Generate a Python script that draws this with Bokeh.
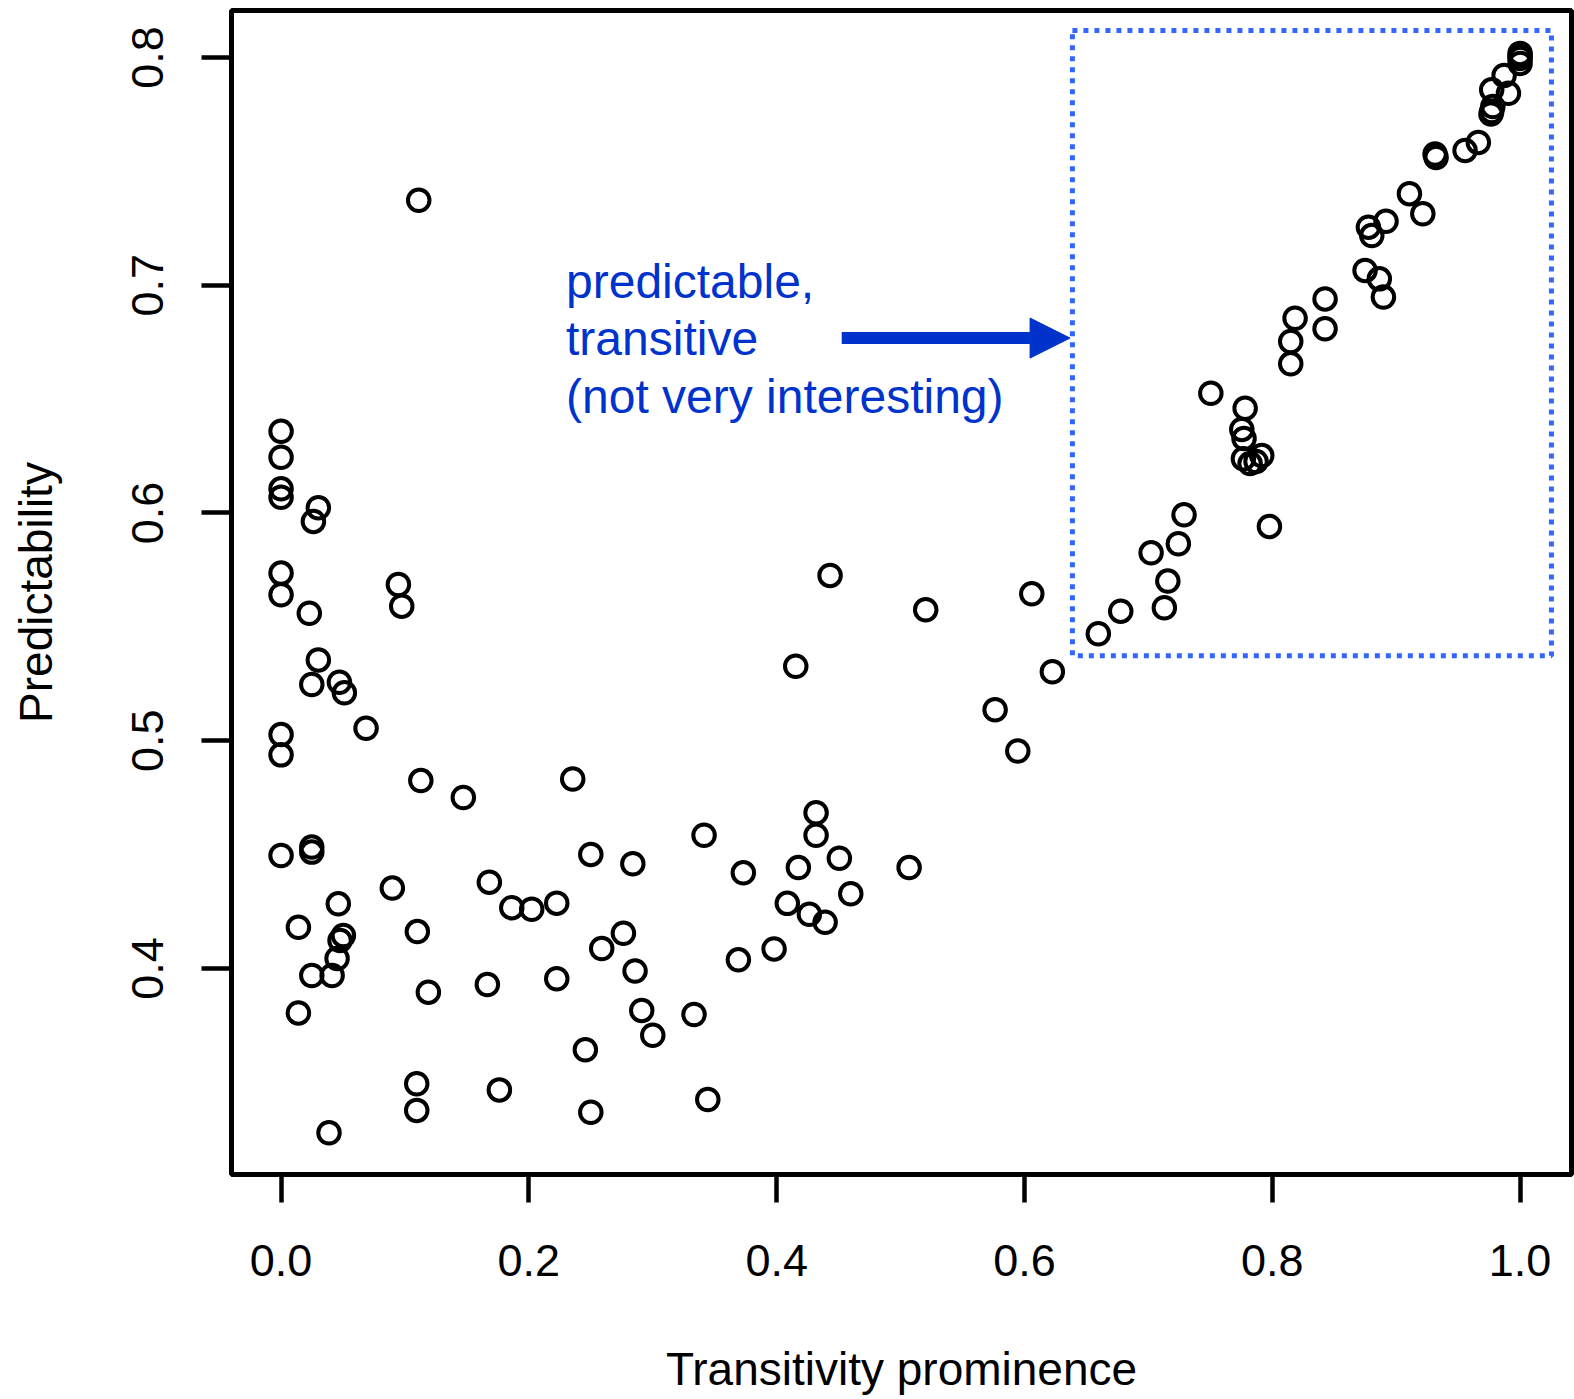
from bokeh.plotting import figure
from bokeh.models import Range1d, FixedTicker, BoxAnnotation, Arrow, NormalHead
from bokeh.core.properties import value
from bokeh.embed import file_html
from bokeh.resources import INLINE

# ---- data ----
transitivity = [
    0.0, 0.0, 0.0, 0.0, 0.0, 0.0, 0.0, 0.0, 0.0,
    0.0301, 0.0261, 0.0228, 0.0947, 0.0974, 0.0301, 0.0248, 0.0471, 0.0511, 0.0686,
    0.1128, 0.1471, 0.2354, 0.1111, 0.0248, 0.0248, 0.2500, 0.2839, 0.0898, 0.1681,
    0.1862, 0.2023, 0.2225, 0.0462, 0.0140, 0.1100, 0.2763, 0.2588, 0.0503, 0.0476,
    0.0452, 0.0412, 0.0248, 0.2857, 0.0140, 0.1189, 0.1665, 0.2225, 0.2911, 0.3000,
    0.2456, 0.1095, 0.1095, 0.1762, 0.2500, 0.0387,
    0.4431, 0.5203, 0.6059, 0.4154, 0.6225, 0.5763, 0.5946, 0.4318, 0.4318, 0.4506,
    0.4175, 0.5069, 0.3414, 0.3731, 0.4598, 0.4086, 0.4264, 0.4391, 0.3979, 0.3691,
    0.3333, 0.3444,
    0.8149, 0.7504, 0.7781, 0.7754, 0.7772, 0.7767, 0.7821, 0.7869, 0.7915, 0.7977,
    0.7288, 0.7242, 0.7022, 0.7157, 0.7129, 0.6777, 0.6596,
    0.8149, 0.8184, 0.8426, 0.8426, 0.8749, 0.8864, 0.8897, 0.8776, 0.8803, 0.8918,
    0.9107, 0.9215, 0.9314, 0.9322, 0.9556, 0.9663, 0.9771, 0.9906, 0.9871, 0.9780,
    0.9771, 0.9765, 1.0, 1.0, 1.0, 1.0,
]
predictability = [
    0.6359, 0.6245, 0.6106, 0.6069, 0.5736, 0.5641, 0.5027, 0.4938, 0.4496,
    0.6023, 0.5963, 0.5560, 0.5686, 0.5591, 0.5355, 0.5247, 0.5257, 0.5211, 0.5055,
    0.4825, 0.4751, 0.4832, 0.7373, 0.4533, 0.4511, 0.4501, 0.4460, 0.4353, 0.4379,
    0.4267, 0.4260, 0.4287, 0.4284, 0.4181, 0.4162, 0.4155, 0.4088, 0.4145, 0.4123,
    0.4044, 0.3969, 0.3969, 0.3989, 0.3805, 0.3896, 0.3930, 0.3955, 0.3816, 0.3707,
    0.3643, 0.3494, 0.3377, 0.3467, 0.3369, 0.3279,
    0.5726, 0.5575, 0.5645, 0.5327, 0.5303, 0.5136, 0.4955, 0.4684, 0.4585, 0.4484,
    0.4443, 0.4443, 0.4585, 0.4420, 0.4328, 0.4286, 0.4238, 0.4203, 0.4086, 0.4038,
    0.3798, 0.3425,
    0.6655, 0.6526, 0.6460, 0.6367, 0.6327, 0.6238, 0.6217, 0.6226, 0.6252, 0.5941,
    0.5992, 0.5865, 0.5825, 0.5701, 0.5584, 0.5569, 0.5470,
    0.6753, 0.6855, 0.6940, 0.6809, 0.7065, 0.7028, 0.6948, 0.7255, 0.7218, 0.7281,
    0.7402, 0.7314, 0.7576, 0.7561, 0.7592, 0.7627, 0.7858, 0.7843, 0.7921, 0.7785,
    0.7763, 0.7752, 0.8018, 0.8007, 0.7996, 0.7974,
]
x_ticks = [0.0, 0.2, 0.4, 0.6, 0.8, 1.0]
x_tick_labels = ["0.0", "0.2", "0.4", "0.6", "0.8", "1.0"]
y_ticks = [0.4, 0.5, 0.6, 0.7, 0.8]
y_tick_labels = ["0.4", "0.5", "0.6", "0.7", "0.8"]
x_title = "Transitivity prominence"
y_title = "Predictability"
note_lines = ["predictable,", "transitive", "(not very interesting)"]

FONT = "Liberation Sans"
NOTE_BLUE = "#0033cc"
BOX_BLUE = "#3366ff"

p = figure(width=1574, height=1399,
           x_range=Range1d(-0.04, 1.0415), y_range=Range1d(0.30955, 0.82063),
           output_backend="svg", toolbar_location=None,
           min_border_left=231, min_border_right=3,
           min_border_top=10, min_border_bottom=225)

p.background_fill_color = "white"
p.border_fill_color = "white"
p.outline_line_color = "black"
p.outline_line_width = 5
p.xgrid.visible = False
p.ygrid.visible = False

for ax, ticks, labels in ((p.xaxis[0], x_ticks, x_tick_labels),
                          (p.yaxis[0], y_ticks, y_tick_labels)):
    ax.ticker = FixedTicker(ticks=ticks)
    ax.major_label_overrides = dict(zip(ticks, labels))
    ax.axis_line_color = None
    ax.major_tick_line_color = "black"
    ax.major_tick_line_width = 4.5
    ax.major_tick_in = 0
    ax.minor_tick_line_color = None
    ax.major_label_text_font = FONT
    ax.major_label_text_font_size = "45px"
    ax.major_label_text_color = "black"
    ax.axis_label_text_font = FONT
    ax.axis_label_text_font_size = "46px"
    ax.axis_label_text_font_style = "normal"
    ax.axis_label_text_color = "black"

p.xaxis.axis_label = x_title
p.xaxis.major_tick_out = 28
p.xaxis.major_label_standoff = 42
p.xaxis.axis_label_standoff = 64

p.yaxis.axis_label = y_title
p.yaxis.major_tick_out = 30
p.yaxis.major_label_orientation = "vertical"
p.yaxis.major_label_standoff = 38
p.yaxis.axis_label_standoff = 68

# highlighted region
p.add_layout(BoxAnnotation(left=0.6387, right=1.0253, bottom=0.5373, top=0.8119,
                           fill_alpha=0, line_color=BOX_BLUE, line_alpha=1.0,
                           line_width=5, line_dash="5 6"))

# arrow
p.add_layout(Arrow(x_start=0.4525, y_start=0.6768, x_end=0.6368, y_end=0.6768,
                   line_color=NOTE_BLUE, line_width=12,
                   end=NormalHead(size=40, fill_color=NOTE_BLUE, line_color=NOTE_BLUE,
                                  line_width=1)))

# note text
note_y = [0.7016, 0.6764, 0.6511]
p.text(x=[0.2300] * 3, y=note_y, text=note_lines,
       text_font=value(FONT), text_font_size="48px", text_color=NOTE_BLUE,
       text_align="left", text_baseline="alphabetic")

# points
p.scatter(transitivity, predictability, marker="circle", size=21.5,
          fill_color=None, line_color="black", line_width=4)

open("out.html", "w").write(file_html(p, INLINE))
